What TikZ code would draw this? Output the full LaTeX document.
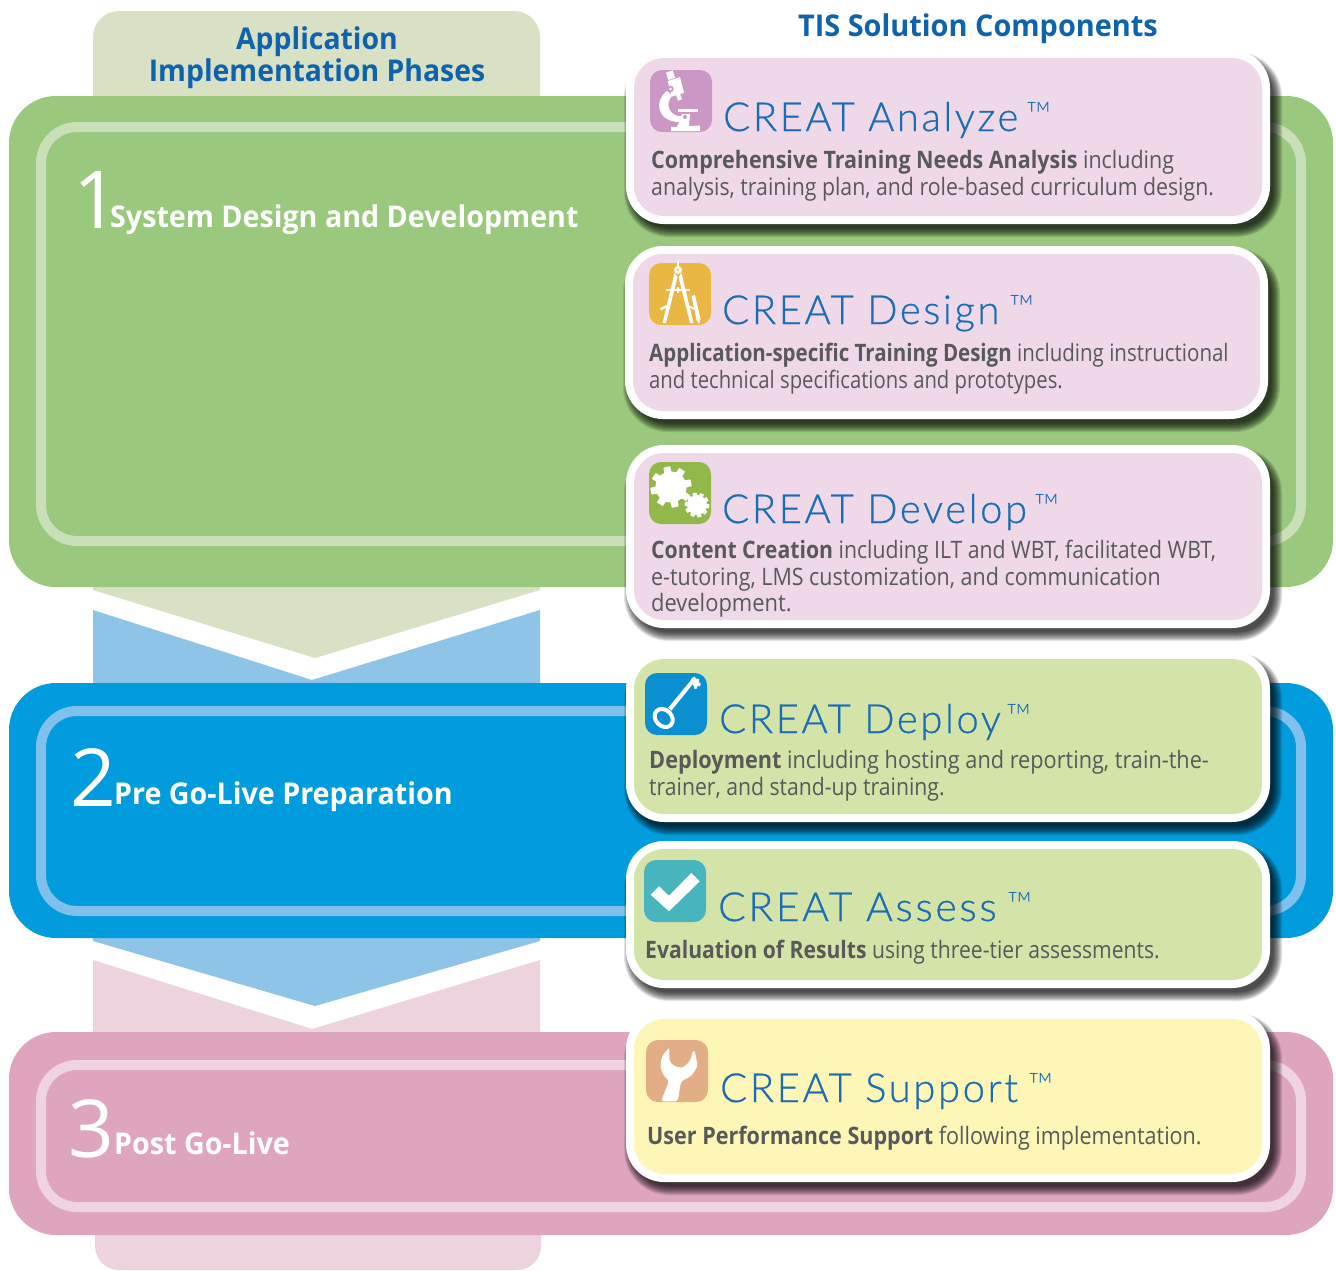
\documentclass[tikz,border=0pt]{standalone}
\usepackage{fontspec}
\usepackage{graphicx}
\setmainfont{Open Sans}[FakeStretch=0.88]
\newfontfamily\titlefont{Lato Light}[LetterSpace=6.5,FakeBold=0.6]
\newfontfamily\tmfont{Lato Light}
\newfontfamily\headfont{Open Sans}[FakeStretch=0.955]
\newfontfamily\numfont{Open Sans}
\definecolor{cBlueText}{HTML}{0F62AC}
\definecolor{cTitle}{HTML}{1A6DB5}
\definecolor{cBody}{HTML}{58595B}
\definecolor{cGreen}{HTML}{9AC87C}
\definecolor{cGreenRing}{HTML}{C9DFB8}
\definecolor{cGreenPale}{HTML}{D8E1C3}
\definecolor{cBlue}{HTML}{009CDE}
\definecolor{cBlueRing}{HTML}{7FC1EC}
\definecolor{cBluePale}{HTML}{8DC4E8}
\definecolor{cPink}{HTML}{DFA5BF}
\definecolor{cPinkRing}{HTML}{F0D3E0}
\definecolor{cPinkPale}{HTML}{ECD3DE}
\definecolor{cCardPink}{HTML}{EFD9E9}
\definecolor{cCardGreen}{HTML}{D4E4A9}
\definecolor{cCardYellow}{HTML}{FDF6B7}
\definecolor{cIcoA}{HTML}{CB97C4}
\definecolor{cIcoB}{HTML}{EBB744}
\definecolor{cIcoC}{HTML}{93B84A}
\definecolor{cIcoD}{HTML}{0A90D0}
\definecolor{cIcoE}{HTML}{47B4BE}
\definecolor{cIcoF}{HTML}{E3AE85}
\tikzset{
  bandshape/.style={rounded corners=47pt},
  ringshape/.style={rounded corners=36pt,line width=10pt},
  headtext/.style={inner sep=0pt,font=\headfont\bfseries\fontsize{30}{32}\selectfont,text=cBlueText,anchor=base},
  phasetext/.style={inner sep=0pt,font=\headfont\bfseries\fontsize{30}{32}\selectfont,text=white,anchor=base west},
  phasenum/.style={inner sep=0pt,font=\numfont\fontsize{80}{80}\selectfont,text=white,anchor=base west},
  titletext/.style={inner sep=0pt,font=\titlefont\fontsize{40}{42}\selectfont,text=cTitle,anchor=base west},
  tmtext/.style={inner sep=0pt,font=\tmfont\fontsize{34}{36}\selectfont,text=cTitle,anchor=base west},
  bodytext/.style={inner sep=0pt,font=\fontsize{24}{26}\selectfont,text=cBody,anchor=base west},
}
\newcommand{\sxx}[2]{\scalebox{#1}[1]{#2}}
\newcommand{\cardpanel}[5]{% xl yt xr yb fill
  \foreach \e in {7,6,...,-2}{
    \fill[black,opacity=.11,rounded corners={max(2,38+\e)*1pt}] ({#1+5-\e},{#2+9-\e}) rectangle ({#3+5+\e},{#4+6+\e});
  }
  \fill[white,rounded corners=38pt] (#1,#2) rectangle (#3,#4);
  \fill[#5,rounded corners=30pt] ({#1+8},{#2+8}) rectangle ({#3-8},{#4-8});
}
\newcommand{\iconpanel}[3]{\fill[#3,rounded corners=12pt] (#1,#2) rectangle ({#1+62},{#2+62});}
\newcommand{\geartoothed}[6]{% cx cy body outer n halfwidth
  \fill[white] (#1,#2) circle (#3);
  \foreach \k in {1,...,#5}{
    \fill[white,shift={(#1,#2)},rotate={\k*360/#5+12}] ({-1.3*#6},0) -- ({-#6},#4) -- (#6,#4) -- ({1.3*#6},0) -- cycle;
  }
}
\begin{document}
\begin{tikzpicture}[x=1pt,y=-1pt]
\useasboundingbox (0,0) rectangle (1336,1270);
\fill[white] (0,0) rectangle (1336,1270);
% pale tabs and chevrons
\fill[cGreenPale,rounded corners=26pt] (93,11) rectangle (540,130);
\fill[cGreenPale] (93,570) -- (93,590) -- (315,658) -- (540,590) -- (540,570) -- cycle;
\fill[cBluePale] (93,610) -- (312,680) -- (540,610) -- (540,700) -- (93,700) -- cycle;
\fill[cBluePale] (93,920) -- (93,941) -- (315,1006) -- (540,941) -- (540,920) -- cycle;
\fill[cPinkPale] (93,960) -- (312,1029) -- (540,960) -- (540,1050) -- (93,1050) -- cycle;
\fill[cPinkPale,rounded corners=24pt] (95,1200) rectangle (541,1270) ;
% bands
\fill[cGreen,bandshape] (9,96) rectangle (1333,587);
\draw[cGreenRing,ringshape] (41,127) rectangle (1301,541);
\fill[cBlue,bandshape] (9,683) rectangle (1333,938);
\draw[cBlueRing,ringshape] (41,711) rectangle (1301,911);
\fill[cPink,bandshape] (9,1032) rectangle (1333,1235);
\draw[cPinkRing,ringshape] (41,1065) rectangle (1301,1207);
% header texts
\node[headtext] (hAppA) at (317,49) {\sxx{.99}{Application}};
\node[headtext] (hAppB) at (317,81) {\sxx{.99}{Implementation Phases}};
\node[headtext] (hTis) at (978,36) {\sxx{1.008}{TIS Solution Components}};
% phase labels
\node[phasenum] (numA) at (73,228) {1};
\node[phasetext] (phA) at (110,227) {System Design and Development};
\node[phasenum] (numB) at (70,806) {2};
\node[phasetext] (phB) at (114,804) {Pre Go-Live Preparation};
\node[phasenum] (numC) at (68,1157) {3};
\node[phasetext] (phC) at (114,1154) {Post Go-Live};
% cards
\cardpanel{626}{50}{1270}{224}{cCardPink}
\cardpanel{625}{246}{1268}{419}{cCardPink}
\cardpanel{626}{445}{1270}{628}{cCardPink}
\cardpanel{626}{651}{1270}{822}{cCardGreen}
\cardpanel{626}{841}{1270}{988}{cCardGreen}
\cardpanel{626}{1011}{1270}{1182}{cCardYellow}
% icon A: microscope
\iconpanel{650}{70}{cIcoA}
\begin{scope}[shift={(650,70)}]
  \fill[white] (17.7,11) -- (30,7) -- (34,22.7) -- (21.7,26.7) -- cycle;
  \fill[white] (16,2.7) -- (22.7,.3) -- (25,7.7) -- (18.3,10) -- cycle;
  \fill[white] (26,25) -- (30,23.7) -- (32,29.3) -- (28,30.7) -- cycle;
  \fill[cIcoA] (20.5,19) circle (3.2);
  \fill[white] (20.5,19) circle (1.4);
  \fill[white] (17,21) .. controls (4,30) and (6,52) .. (30,52) -- (33,46) .. controls (20,48) and (14,34) .. (22,26) -- cycle;
  \fill[white] (28,38.7) -- (48,38.7) -- (48,42) -- (28,42) -- cycle;
  \fill[white] (32,44) -- (40,44) -- (39,57) -- (27,57) -- cycle;
  \fill[white] (21,57) -- (50,55.5) -- (50,61) -- (21,61) -- cycle;
  \fill[cIcoA] (35,47) circle (2);
\end{scope}
% icon B: compass
\iconpanel{649}{263}{cIcoB}
\begin{scope}[shift={(649,263)}]
  \fill[white] (28.4,-3) -- (29.6,-3) -- (30,4) -- (28,4) -- cycle;
  \fill[white] (29,7) circle (4);
  \fill[cIcoB] (29,7) circle (1.2);
  \fill[white] (25.5,10) -- (28.5,14) -- (17,60) -- (13.5,60) -- cycle;
  \fill[white] (32.5,10) -- (29.5,14) -- (41,60) -- (44.5,60) -- cycle;
  \fill[white] (17,26) -- (41,26) -- (41,27.5) -- (17,27.5) -- cycle;
  \fill[white] (27.8,24) -- (30.2,24) -- (30.2,30) -- (27.8,30) -- cycle;
  \fill[white] (42.5,33) -- (46,32) -- (51.5,56) -- (50,61) -- (47.5,57) -- cycle;
  \fill[white] (11,45) -- (19,41.5) -- (19,43.5) -- (12,47.5) -- cycle;
  \fill[white] (39,42) -- (46,45) -- (46,47) -- (39,44) -- cycle;
\end{scope}
% icon C: gears
\iconpanel{649}{462}{cIcoC}
\begin{scope}[shift={(649,462)}]
  \geartoothed{22}{25}{15.5}{20.5}{8}{3.4}
  \geartoothed{48}{43}{10}{12.3}{10}{2}
\end{scope}
% icon D: key
\iconpanel{645}{673}{cIcoD}
\begin{scope}[shift={(645,673)}]
  \draw[white,line width=4pt,rotate around={-45:(18.7,45)}] (18.7,45) ellipse (10 and 8);
  \fill[white] (23,35) -- (46.5,6.5) -- (49.5,9) -- (26.5,37.5) -- cycle;
  \fill[white] (46,6) -- (49.5,3.5) -- (51,5.5) -- (54,6) -- (54,9) -- (56,11) -- (54.5,13.5) -- (52.5,12.5) -- (52,15.5) -- (49.5,16) -- (48,11) -- cycle;
\end{scope}
% icon E: check mark
\iconpanel{644}{860}{cIcoE}
\begin{scope}[shift={(644,860)}]
  \fill[white] (6.7,34.7) -- (15,26.3) -- (25,35.7) -- (47.3,13) -- (55.7,21.3) -- (25,51.3) -- cycle;
\end{scope}
% icon F: wrench
\iconpanel{646}{1040}{cIcoF}
\begin{scope}[shift={(646,1040)}]
  \fill[white,rounded corners=3pt] (23.3,7) -- (16,16.3) -- (14,26.3) -- (18.3,37) -- (23.3,40.3) -- (15,61.3) -- (31.7,61.3) -- (35,41.3) -- (45,36.3) -- (51.7,26.3) -- (49.3,13) -- (47.3,9.7) -- (44,21.3) -- (36.7,28) -- (28.3,26.3) -- (23.3,21.3) -- cycle;
\end{scope}
% titles
\node[titletext] (tA) at (723,131) {CREAT Analyze};
\node[tmtext] (tmA) at (1026,126) {™};
\node[titletext] (tB) at (722,324) {CREAT Design};
\node[tmtext] (tmB) at (1009,319) {™};
\node[titletext] (tC) at (722,523) {CREAT Develop};
\node[tmtext] (tmC) at (1034,518) {™};
\node[titletext] (tD) at (719,733) {CREAT Deploy};
\node[tmtext] (tmD) at (1006,728) {™};
\node[titletext] (tE) at (718,921) {\sxx{1.02}{CREAT Assess}};
\node[tmtext] (tmE) at (1007,916) {™};
\node[titletext] (tF) at (720,1102) {CREAT Support};
\node[tmtext] (tmF) at (1028,1097) {™};
% body texts
\node[bodytext] (bA1) at (651,168) {\sxx{1.017}{\textbf{Comprehensive Training Needs Analysis} including}};
\node[bodytext] (bA2) at (651,195) {\sxx{1.007}{analysis, training plan, and role-based curriculum design.}};
\node[bodytext] (bB1) at (649,361) {\sxx{.97}{\textbf{Application-specific Training Design} including instructional}};
\node[bodytext] (bB2) at (649,388) {\sxx{.96}{and technical specifications and prototypes.}};
\node[bodytext] (bC1) at (651,558) {\sxx{1.005}{\textbf{Content Creation} including ILT and WBT, facilitated WBT,}};
\node[bodytext] (bC2) at (651,585) {\sxx{1.016}{e-tutoring, LMS customization, and communication}};
\node[bodytext] (bC3) at (651,611) {\sxx{1.037}{development.}};
\node[bodytext] (bD1) at (649,768) {\sxx{1.027}{\textbf{Deployment} including hosting and reporting, train-the-}};
\node[bodytext] (bD2) at (649,795) {\sxx{1.003}{trainer, and stand-up training.}};
\node[bodytext] (bE1) at (645,958) {\textbf{Evaluation of Results} using three-tier assessments.};
\node[bodytext] (bF1) at (647,1144) {\sxx{1.02}{\textbf{User Performance Support} following implementation.}};
\end{tikzpicture}
\end{document}
